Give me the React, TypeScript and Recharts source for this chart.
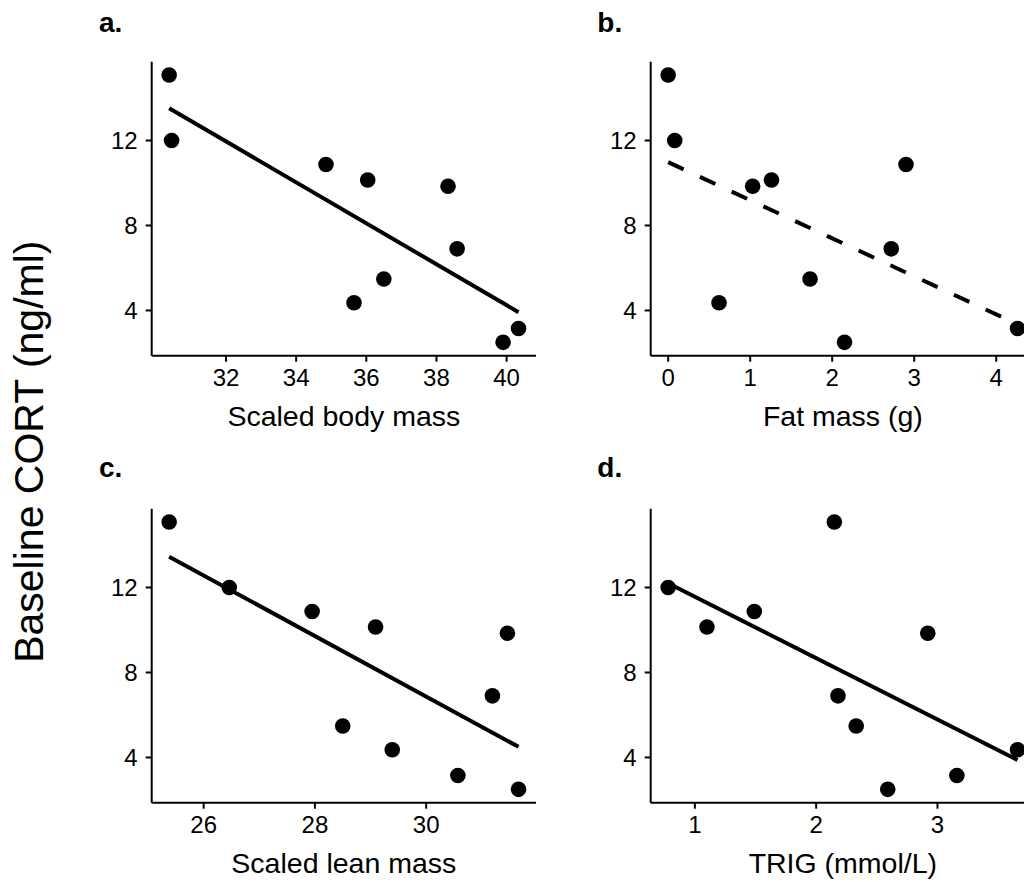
import { ScatterChart, Scatter, XAxis, YAxis } from 'recharts';

// baseline CORT (ng/ml), one value per bird, same order in every panel
const cort = [15.08, 12.0, 10.87, 10.14, 9.85, 6.9, 5.48, 4.36, 3.15, 2.5];

const scaledBodyMass = [30.38, 30.45, 34.85, 36.04, 38.33, 38.59, 36.5, 35.65, 40.34, 39.9];
const fatMass = [0.0, 0.08, 2.9, 1.26, 1.03, 2.72, 1.73, 0.62, 4.26, 2.15];
const scaledLeanMass = [25.38, 26.46, 27.95, 29.09, 31.46, 31.19, 28.5, 29.39, 30.57, 31.66];
const trig = [2.15, 0.78, 1.49, 1.1, 2.92, 2.18, 2.33, 3.66, 3.16, 2.59];

// fitted lines, end points
const fitBodyX = [30.38, 40.34];
const fitBodyY = [13.52, 3.92];
const fitFatX = [0.0, 4.26];
const fitFatY = [10.98, 3.35];
const fitLeanX = [25.38, 31.66];
const fitLeanY = [13.45, 4.5];
const fitTrigX = [0.78, 3.66];
const fitTrigY = [12.2, 3.88];

const yTicks = [4, 8, 12];
const bodyTicks = [32, 34, 36, 38, 40];
const fatTicks = [0, 1, 2, 3, 4];
const leanTicks = [26, 28, 30];
const trigTicks = [1, 2, 3];

const FONT = '"Liberation Sans", Arial, Helvetica, sans-serif';

// ggplot-style 5% padding on each side of the data range
const pad = (v: number[]): [number, number] => {
  const lo = Math.min(...v);
  const hi = Math.max(...v);
  const r = hi - lo;
  return [lo - r * 0.05, hi + r * 0.05];
};

const Dot = (props: any) => <circle cx={props.cx} cy={props.cy} r={7.8} fill="#000" />;
const NoShape = () => <g />;

interface PanelProps {
  left: number;
  top: number;
  xs: number[];
  fitX: number[];
  fitY: number[];
  ticks: number[];
  title: string;
  dashed?: boolean;
}

function Panel({ left, top, xs, fitX, fitY, ticks, title, dashed }: PanelProps) {
  const points = xs.map((x, i) => ({ x, y: cort[i] }));
  const fit = fitX.map((x, i) => ({ x, y: fitY[i] }));
  const axisStyle = { stroke: '#000', strokeWidth: 2 };
  const tickStyle = { fill: '#000', fontSize: 24 };
  return (
    <div style={{ position: 'absolute', left, top }}>
      <ScatterChart width={470} height={400} margin={{ top: 21.7, right: 14, bottom: 0, left: 0 }}>
        <XAxis
          type="number"
          dataKey="x"
          domain={pad(xs)}
          ticks={ticks}
          allowDataOverflow
          height={84.3}
          axisLine={axisStyle}
          tickLine={axisStyle}
          tickSize={6}
          tickMargin={7}
          tick={tickStyle}
          label={{ value: title, position: 'insideBottom', offset: 14, fontSize: 28.5, fill: '#000' }}
        />
        <YAxis
          type="number"
          dataKey="y"
          domain={pad(cort)}
          ticks={yTicks}
          allowDataOverflow
          width={71.7}
          axisLine={axisStyle}
          tickLine={axisStyle}
          tickSize={6}
          tickMargin={8}
          tick={tickStyle}
        />
        <Scatter
          data={fit}
          line={{ stroke: '#000', strokeWidth: 4, strokeDasharray: dashed ? '17 18' : undefined }}
          shape={NoShape}
          isAnimationActive={false}
        />
        <Scatter data={points} shape={Dot} isAnimationActive={false} />
      </ScatterChart>
    </div>
  );
}

export default function App() {
  return (
    <div
      style={{
        position: 'absolute',
        left: 0,
        top: 0,
        width: 1024,
        height: 882,
        overflow: 'hidden',
        background: '#fff',
        fontFamily: FONT,
      }}
    >
      <Panel left={80} top={40} xs={scaledBodyMass} fitX={fitBodyX} fitY={fitBodyY} ticks={bodyTicks} title="Scaled body mass" />
      <Panel left={578.6} top={40} xs={fatMass} fitX={fitFatX} fitY={fitFatY} ticks={fatTicks} title="Fat mass (g)" dashed />
      <Panel left={80} top={486.6} xs={scaledLeanMass} fitX={fitLeanX} fitY={fitLeanY} ticks={leanTicks} title="Scaled lean mass" />
      <Panel left={578.6} top={486.6} xs={trig} fitX={fitTrigX} fitY={fitTrigY} ticks={trigTicks} title="TRIG (mmol/L)" />
      <svg width={1024} height={882} style={{ position: 'absolute', left: 0, top: 0, pointerEvents: 'none' }}>
        <g fontFamily={FONT} fontWeight="bold" fontSize={28} fill="#000">
          <text x={99} y={31.7}>a.</text>
          <text x={597.3} y={31.7}>b.</text>
          <text x={99} y={477.3}>c.</text>
          <text x={597.3} y={477.3}>d.</text>
        </g>
        <text
          transform="translate(42.7, 451.7) rotate(-90)"
          textAnchor="middle"
          fontFamily={FONT}
          fontSize={41}
          fill="#000"
        >
          Baseline CORT (ng/ml)
        </text>
      </svg>
    </div>
  );
}
